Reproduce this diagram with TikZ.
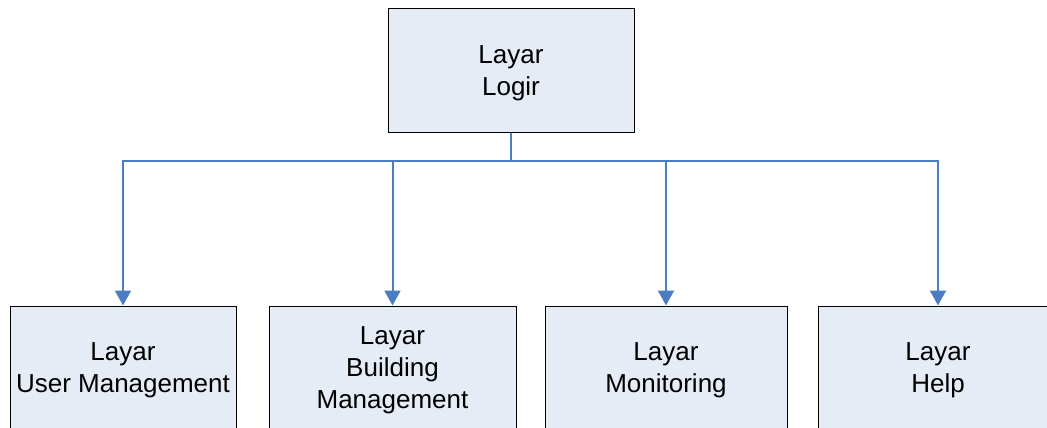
\documentclass[tikz,border=0pt]{standalone}
\usepackage{fontspec}
\setmainfont{Liberation Sans}
\usetikzlibrary{arrows.meta}
\definecolor{boxfill}{RGB}{230,236,246}
\definecolor{linkblue}{RGB}{74,126,193}
\tikzset{
  box/.style={draw=black, line width=1pt, fill=boxfill, rectangle, inner sep=0pt,
    align=center, text depth=0pt, font=\fontsize{26}{32}\selectfont},
  link/.style={draw=linkblue, line width=2pt},
  arrowlink/.style={link, -{Triangle[length=15pt,width=16pt]}, shorten >=0pt}
}
\begin{document}
\begin{tikzpicture}[x=1pt,y=1pt]
\useasboundingbox (0,0) rectangle (1047,-428);
\clip (0,0) rectangle (1047,-428);
\node[box, minimum width=246pt, minimum height=123pt] (top) at (511,-70.5) {Layar\\Logir};
\node[box, minimum width=226pt, minimum height=123pt] (b1) at (123,-367.5) {Layar\\User Management};
\node[box, minimum width=247pt, minimum height=123pt] (b2) at (392.5,-367.5) {Layar\\Building\\Management};
\node[box, minimum width=242pt, minimum height=123pt] (b3) at (666,-367.5) {Layar\\Monitoring};
\node[box, minimum width=240pt, minimum height=123pt] (b4) at (938,-367.5) {Layar\\Help};
\coordinate (j) at (511,-161);
\draw[link] (top.south) -- (j);
\draw[arrowlink] (j) -| (b1.north);
\draw[arrowlink] (j) -| (b2.north);
\draw[arrowlink] (j) -| (b3.north);
\draw[arrowlink] (j) -| (b4.north);
\end{tikzpicture}
\end{document}
